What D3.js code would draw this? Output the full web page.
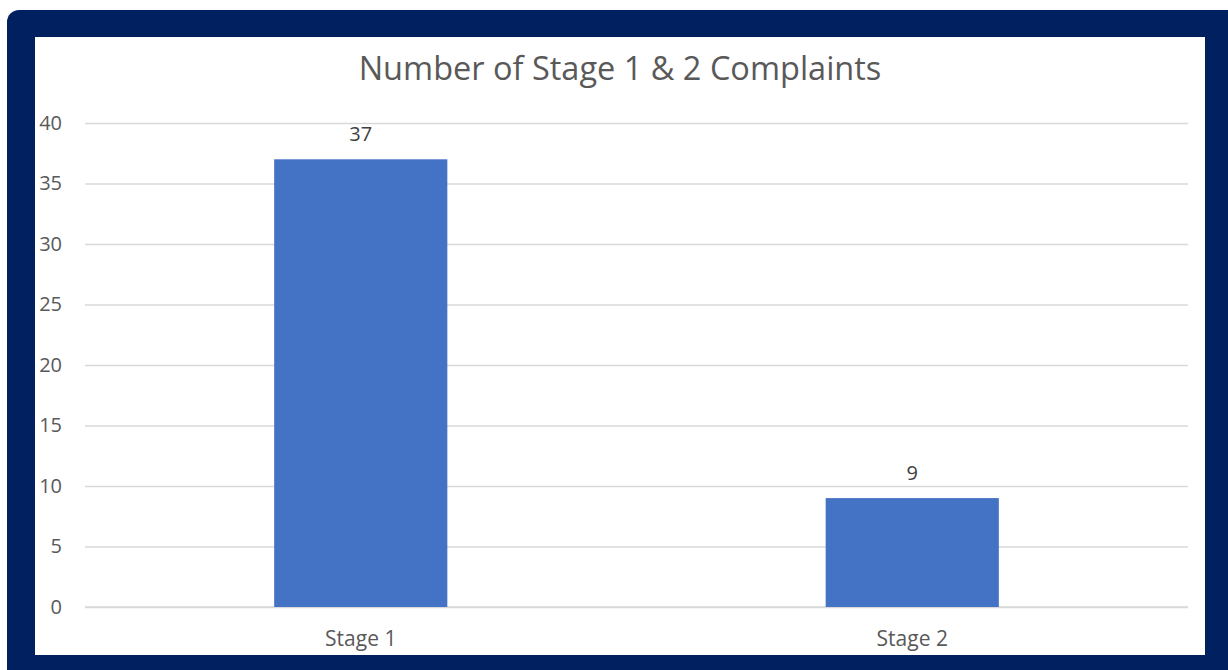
<!DOCTYPE html>
<html lang="en">
<head>
    <meta charset="UTF-8">
    <title>Number of Stage 1 & 2 Complaints</title>
    <script src="https://cdnjs.cloudflare.com/ajax/libs/d3/7.8.5/d3.min.js"></script>
    <style>
        body {
            margin: 0;
            background: #fff;
        }
        svg {
            display: block;
        }
        svg text {
            font-family: "Open Sans", sans-serif;
        }
    </style>
</head>
<body>
    <div id="chart"></div>

    <script>
        const categories = ["Stage 1", "Stage 2"];
        const complaints = [37, 9];
        const yTicks = [0, 5, 10, 15, 20, 25, 30, 35, 40];
        const title = "Number of Stage 1 & 2 Complaints";

        const config = {
            width: 1228,
            height: 670,
            plot: { left: 85, right: 1188, top: 123, bottom: 607 }
        };

        const svg = d3.select("#chart")
            .append("svg")
            .attr("width", config.width)
            .attr("height", config.height);

        // navy frame with the white chart area inside
        svg.append("rect")
            .attr("x", 7).attr("y", 10)
            .attr("width", 1240).attr("height", 700)
            .attr("rx", 12)
            .attr("fill", "#002060");
        svg.append("rect")
            .attr("x", 35).attr("y", 37)
            .attr("width", 1170).attr("height", 618)
            .attr("fill", "#fff");

        svg.append("text")
            .attr("x", 620).attr("y", 80)
            .attr("text-anchor", "middle")
            .attr("font-size", 32.5)
            .attr("fill", "#595959")
            .text(title);

        const x = d3.scaleBand()
            .domain(categories)
            .range([config.plot.left, config.plot.right])
            .paddingInner(0.686)
            .paddingOuter(0.343);

        const y = d3.scaleLinear()
            .domain([0, 40])
            .range([config.plot.bottom, config.plot.top]);

        // gridlines + y labels
        const yAxis = svg.append("g")
            .attr("transform", `translate(${config.plot.left},0)`)
            .call(d3.axisLeft(y).tickValues(yTicks)
                .tickSize(-(config.plot.right - config.plot.left))
                .tickPadding(23));
        yAxis.attr("font-family", null).attr("font-size", null);
        yAxis.select(".domain").remove();
        yAxis.selectAll(".tick line").attr("stroke", "#d9d9d9").attr("stroke-width", 1.5);
        yAxis.selectAll(".tick text")
            .attr("fill", "#595959")
            .attr("font-size", 20);

        // bottom axis line
        svg.append("line")
            .attr("x1", config.plot.left).attr("x2", config.plot.right)
            .attr("y1", y(0)).attr("y2", y(0))
            .attr("stroke", "#d9d9d9").attr("stroke-width", 1.5);

        svg.selectAll(".bar")
            .data(categories)
            .enter().append("rect")
            .attr("class", "bar")
            .attr("x", d => x(d))
            .attr("width", x.bandwidth())
            .attr("y", (d, i) => y(complaints[i]))
            .attr("height", (d, i) => y(0) - y(complaints[i]))
            .attr("fill", "#4472c4");

        svg.selectAll(".value")
            .data(categories)
            .enter().append("text")
            .attr("class", "value")
            .attr("x", d => x(d) + x.bandwidth() / 2)
            .attr("y", (d, i) => y(complaints[i]) - 18)
            .attr("text-anchor", "middle")
            .attr("font-size", 20)
            .attr("fill", "#404040")
            .text((d, i) => complaints[i]);

        svg.selectAll(".cat")
            .data(categories)
            .enter().append("text")
            .attr("class", "cat")
            .attr("x", d => x(d) + x.bandwidth() / 2)
            .attr("y", 646)
            .attr("text-anchor", "middle")
            .attr("font-size", 21)
            .attr("fill", "#595959")
            .text(d => d);
    </script>
</body>
</html>
